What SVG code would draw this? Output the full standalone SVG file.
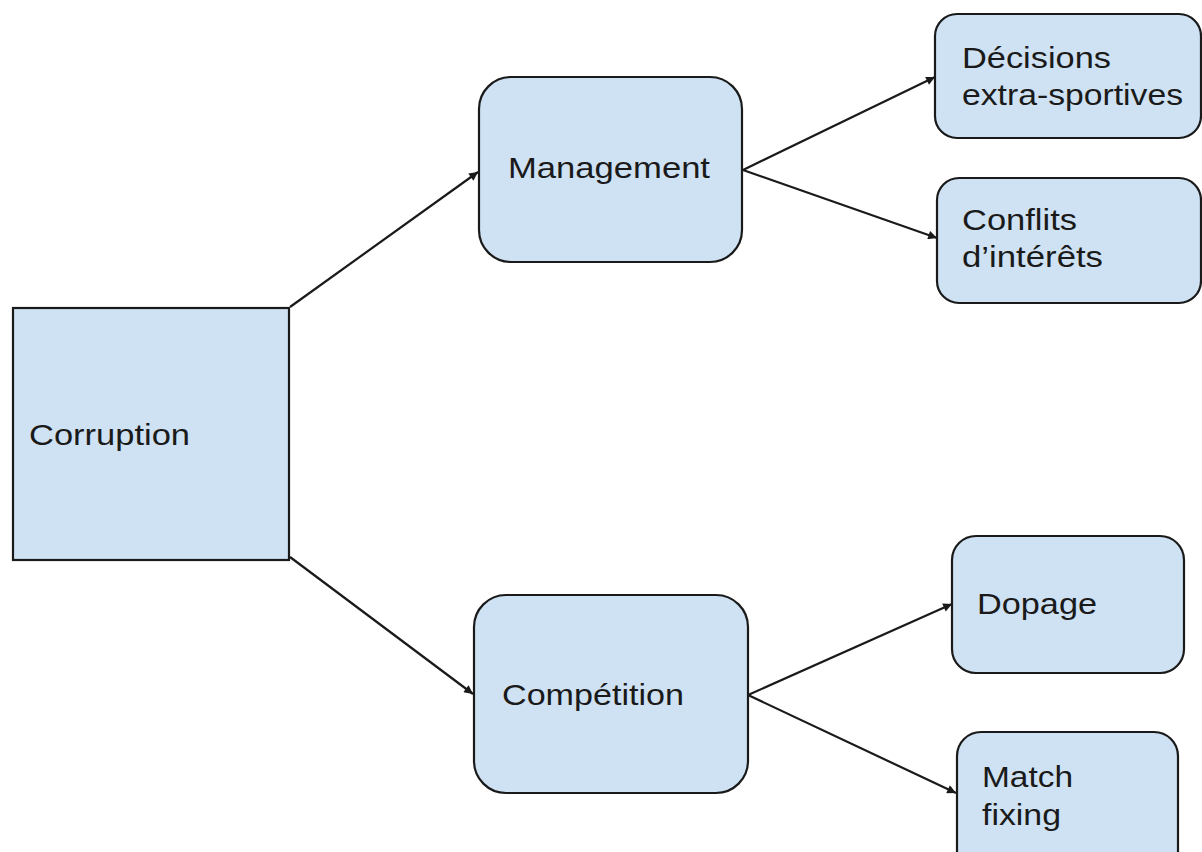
<svg xmlns="http://www.w3.org/2000/svg" width="1202" height="852" viewBox="0 0 1202 852">
<style>
.box{fill:#cfe2f3;stroke:#1a1a1a;stroke-width:2.2}
.lbl{font-family:"Liberation Sans",Arial,sans-serif;font-size:29px;fill:#1a1a1a}
.conn{stroke:#1a1a1a;stroke-width:2.2;fill:none;marker-end:url(#arr)}
</style>
<defs>
<marker id="arr" viewBox="0 0 10 10" refX="10" refY="5" markerWidth="5" markerHeight="4" orient="auto" markerUnits="strokeWidth">
<path d="M0,0 L10,5 L0,10 z" fill="#1a1a1a"/>
</marker>
</defs>
<rect width="1202" height="852" fill="#ffffff"/>
<g id="connectors">
<line class="conn" x1="290" y1="307" x2="478" y2="172"/>
<line class="conn" x1="290" y1="557" x2="473" y2="694"/>
<line class="conn" x1="743" y1="170" x2="935" y2="77"/>
<line class="conn" x1="743" y1="170" x2="937" y2="238"/>
<line class="conn" x1="748" y1="695" x2="952" y2="604"/>
<line class="conn" x1="748" y1="695" x2="956" y2="793"/>
</g>
<g id="corruption">
<rect class="box" x="13" y="308" width="276" height="252"/>
<text class="lbl" x="29" y="445" textLength="161" lengthAdjust="spacingAndGlyphs">Corruption</text>
</g>
<g id="management">
<rect class="box" x="479" y="77" width="263" height="185" rx="32" ry="32"/>
<text class="lbl" x="508" y="178" textLength="202" lengthAdjust="spacingAndGlyphs">Management</text>
</g>
<g id="competition">
<rect class="box" x="474" y="595" width="274" height="198" rx="32" ry="32"/>
<text class="lbl" x="502" y="705" textLength="182" lengthAdjust="spacingAndGlyphs">Compétition</text>
</g>
<g id="decisions">
<rect class="box" x="935" y="14" width="266" height="124" rx="22" ry="22"/>
<text class="lbl" x="962" y="68" textLength="149" lengthAdjust="spacingAndGlyphs">Décisions</text>
<text class="lbl" x="962" y="105" textLength="221" lengthAdjust="spacingAndGlyphs">extra-sportives</text>
</g>
<g id="conflits">
<rect class="box" x="937" y="178" width="264" height="125" rx="22" ry="22"/>
<text class="lbl" x="962" y="230" textLength="115" lengthAdjust="spacingAndGlyphs">Conflits</text>
<text class="lbl" x="962" y="267" textLength="141" lengthAdjust="spacingAndGlyphs">d’intérêts</text>
</g>
<g id="dopage">
<rect class="box" x="952" y="536" width="232" height="137" rx="24" ry="24"/>
<text class="lbl" x="977" y="614" textLength="120" lengthAdjust="spacingAndGlyphs">Dopage</text>
</g>
<g id="matchfixing">
<rect class="box" x="957" y="732" width="221" height="150" rx="24" ry="24"/>
<text class="lbl" x="982" y="787" textLength="91" lengthAdjust="spacingAndGlyphs">Match</text>
<text class="lbl" x="982" y="825" textLength="79" lengthAdjust="spacingAndGlyphs">fixing</text>
</g>
</svg>
